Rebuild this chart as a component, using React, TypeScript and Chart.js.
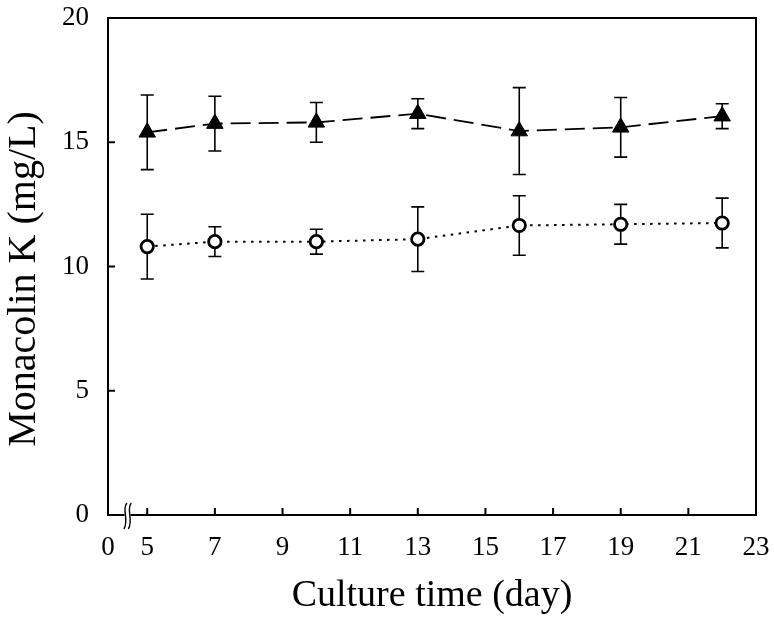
import React, { useEffect, useRef } from 'react';
import { Chart, registerables } from 'chart.js';

Chart.register(...registerables);

// ---- data ----
const DAYS = [5, 7, 10, 13, 16, 19, 22];
const TRIANGLE_MEAN = [15.4, 15.75, 15.8, 16.15, 15.45, 15.6, 16.05];
const TRIANGLE_ERR = [1.5, 1.1, 0.8, 0.6, 1.75, 1.2, 0.5];
const CIRCLE_MEAN = [10.8, 11.0, 11.0, 11.1, 11.65, 11.7, 11.75];
const CIRCLE_ERR = [1.3, 0.6, 0.5, 1.3, 1.2, 0.8, 1.0];

const X_TICKS = [5, 7, 9, 11, 13, 15, 17, 19, 21, 23];
const X_BREAK_ORIGIN = 3.84; // axis origin shown as "0" across the axis break
const X_ORIGIN_LABEL = '0';
const Y_TICKS = [0, 5, 10, 15, 20];

const X_TITLE = 'Culture time (day)';
const Y_TITLE = 'Monacolin K (mg/L)';

const SERIF = '"Liberation Serif", "Times New Roman", serif';

const decorPlugin = {
  id: 'decor',
  beforeDatasetsDraw(chart: any) {
    const ctx = chart.ctx;
    const yScale = chart.scales.y;
    ctx.save();
    ctx.strokeStyle = '#000';
    ctx.lineWidth = 1.6;
    chart.data.datasets.forEach((ds: any, i: number) => {
      const meta = chart.getDatasetMeta(i);
      const errs: number[] = ds.errors || [];
      meta.data.forEach((pt: any, j: number) => {
        const v = ds.data[j].y;
        const e = errs[j] || 0;
        const x = pt.x;
        const yt = yScale.getPixelForValue(v + e);
        const yb = yScale.getPixelForValue(v - e);
        const cap = 6.5;
        ctx.beginPath();
        ctx.moveTo(x, yt);
        ctx.lineTo(x, yb);
        ctx.moveTo(x - cap, yt);
        ctx.lineTo(x + cap, yt);
        ctx.moveTo(x - cap, yb);
        ctx.lineTo(x + cap, yb);
        ctx.stroke();
      });
    });
    ctx.restore();
  },
  afterDatasetsDraw(chart: any) {
    const ctx = chart.ctx;
    const { left, right, top, bottom } = chart.chartArea;
    const xs = chart.scales.x;
    const ys = chart.scales.y;
    ctx.save();
    ctx.strokeStyle = '#000';
    ctx.lineWidth = 2;
    ctx.strokeRect(left, top, right - left, bottom - top);

    // inward tick marks
    const tl = 7;
    ctx.beginPath();
    X_TICKS.forEach((v) => {
      const px = xs.getPixelForValue(v);
      if (px <= left + 1 || px >= right - 1) return;
      ctx.moveTo(px, bottom);
      ctx.lineTo(px, bottom - tl);
    });
    Y_TICKS.forEach((v) => {
      const py = ys.getPixelForValue(v);
      if (py <= top + 1 || py >= bottom - 1) return;
      ctx.moveTo(left, py);
      ctx.lineTo(left + tl, py);
    });
    ctx.stroke();

    // axis break symbol
    const bx = xs.getPixelForValue((X_BREAK_ORIGIN + X_TICKS[0]) / 2);
    ctx.fillStyle = '#fff';
    ctx.fillRect(bx - 3, bottom - 2, 6, 4);
    ctx.lineWidth = 1.4;
    [-2.2, 2.2].forEach((dx) => {
      const x0 = bx + dx;
      ctx.beginPath();
      ctx.moveTo(x0 + 1.5, bottom - 12);
      ctx.bezierCurveTo(x0 - 4, bottom - 6, x0 + 4, bottom + 5, x0 - 1.5, bottom + 14);
      ctx.stroke();
    });

    // y-axis title
    ctx.fillStyle = '#000';
    ctx.font = `40px ${SERIF}`;
    ctx.textAlign = 'center';
    ctx.textBaseline = 'middle';
    ctx.translate(24, 279);
    ctx.rotate(-Math.PI / 2);
    ctx.fillText(Y_TITLE, 0, 0);
    ctx.restore();
  },
};

export default function App() {
  const ref = useRef<HTMLCanvasElement | null>(null);

  useEffect(() => {
    if (!ref.current) return;
    const chart = new Chart(ref.current, {
      type: 'line',
      data: {
        datasets: [
          {
            label: 'triangle',
            data: DAYS.map((d, i) => ({ x: d, y: TRIANGLE_MEAN[i] })),
            errors: TRIANGLE_ERR,
            borderColor: '#000',
            borderWidth: 1.8,
            borderDash: [20, 8],
            pointStyle: 'triangle',
            pointRadius: 9.5,
            pointBorderWidth: 1,
            pointBackgroundColor: '#000',
            pointBorderColor: '#000',
            fill: false,
            tension: 0,
          } as any,
          {
            label: 'circle',
            data: DAYS.map((d, i) => ({ x: d, y: CIRCLE_MEAN[i] })),
            errors: CIRCLE_ERR,
            borderColor: '#000',
            borderWidth: 2,
            borderDash: [2.5, 5.5],
            pointStyle: 'circle',
            pointRadius: 6.2,
            pointBorderWidth: 2.8,
            pointBackgroundColor: '#fff',
            pointBorderColor: '#000',
            fill: false,
            tension: 0,
          } as any,
        ],
      },
      options: {
        animation: false,
        responsive: true,
        maintainAspectRatio: false,
        layout: { padding: { left: 0, top: 18, right: 18, bottom: 0 } },
        plugins: {
          legend: { display: false },
          tooltip: { enabled: false },
        },
        scales: {
          x: {
            type: 'linear',
            min: X_BREAK_ORIGIN,
            max: X_TICKS[X_TICKS.length - 1],
            grid: { display: false, drawTicks: false },
            border: { display: false },
            afterBuildTicks: (scale: any) => {
              scale.ticks = [{ value: X_BREAK_ORIGIN }, ...X_TICKS.map((v) => ({ value: v }))];
            },
            afterFit: (scale: any) => {
              scale.height = 106;
              scale.paddingLeft = 0;
              scale.paddingRight = 0;
            },
            ticks: {
              padding: 17,
              color: '#000',
              maxRotation: 0,
              autoSkip: false,
              font: { family: SERIF, size: 27 },
              callback: (v: any) => (v === X_BREAK_ORIGIN ? X_ORIGIN_LABEL : String(v)),
            },
            title: {
              display: true,
              text: X_TITLE,
              color: '#000',
              font: { family: SERIF, size: 38 },
              padding: { top: 0, bottom: 2 },
            },
          },
          y: {
            type: 'linear',
            min: Y_TICKS[0],
            max: Y_TICKS[Y_TICKS.length - 1],
            grid: { display: false, drawTicks: false },
            border: { display: false },
            afterBuildTicks: (scale: any) => {
              scale.ticks = Y_TICKS.map((v) => ({ value: v }));
            },
            afterFit: (scale: any) => {
              scale.width = 108;
              scale.paddingTop = 0;
              scale.paddingBottom = 0;
            },
            ticks: {
              padding: 19,
              color: '#000',
              font: { family: SERIF, size: 27 },
            },
          },
        },
      } as any,
      plugins: [decorPlugin],
    });
    return () => chart.destroy();
  }, []);

  return (
    <div style={{ position: 'fixed', left: 0, top: 0, width: 774, height: 621, background: '#fff' }}>
      <canvas ref={ref} />
    </div>
  );
}
